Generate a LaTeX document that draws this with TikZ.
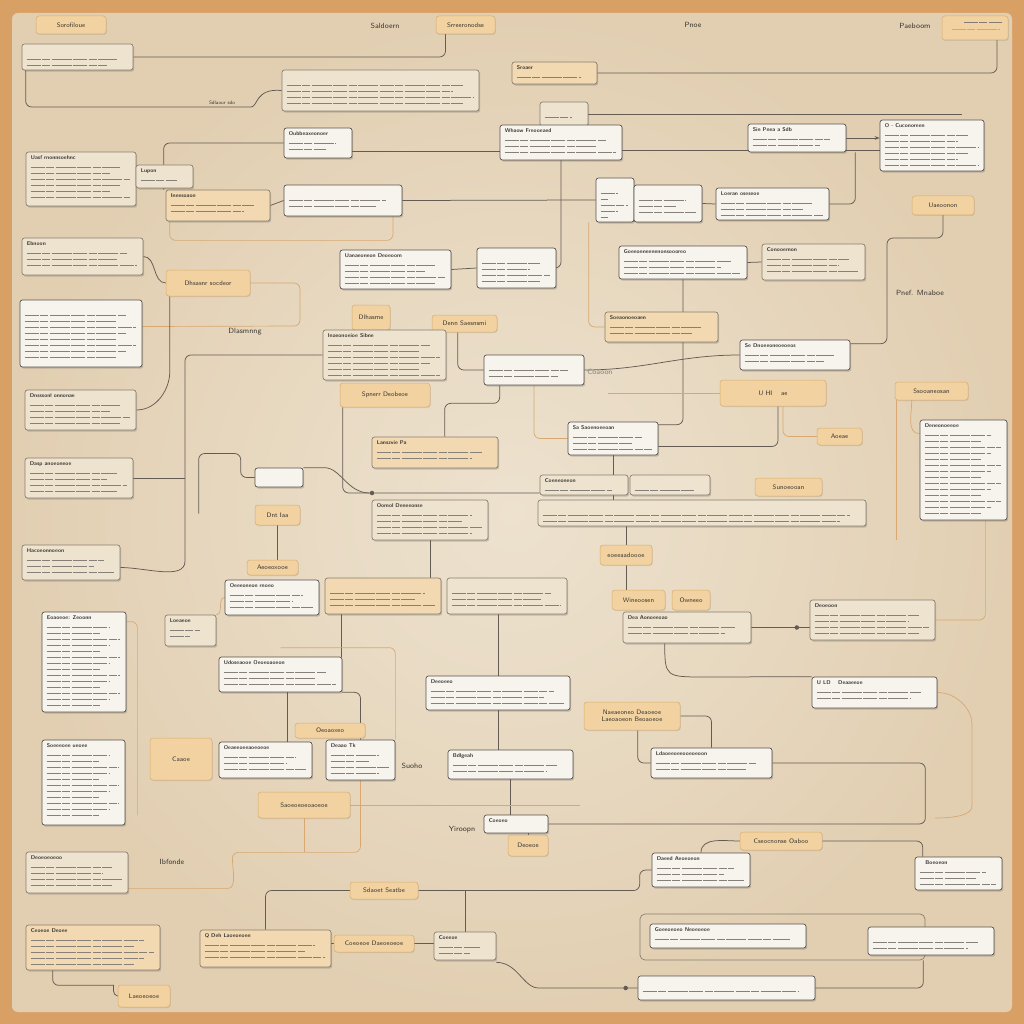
\documentclass[tikz,border=0pt]{standalone}
\usepackage{tikz}
\usetikzlibrary{shadows,arrows.meta}

\definecolor{frame}{HTML}{D9A066}
\definecolor{panel}{HTML}{E2CFB2}
\definecolor{panelin}{HTML}{EDE2CF}
\definecolor{boxwhite}{HTML}{F7F4EE}
\definecolor{boxcream}{HTML}{EEE3CF}
\definecolor{boxorange}{HTML}{F2D9B2}
\definecolor{tagorange}{HTML}{F1D2A0}
\definecolor{tagline}{HTML}{D8AC72}
\definecolor{boxline}{HTML}{5B534B}
\definecolor{creamline}{HTML}{8A7E70}
\definecolor{wirecol}{HTML}{645B52}
\definecolor{owirecol}{HTML}{D8A870}
\definecolor{inkdark}{HTML}{3A3632}
\definecolor{inkgray}{HTML}{85807A}

\pgfdeclarelayer{base}
\pgfdeclarelayer{bg}
\pgfsetlayers{base,bg,main}

\tikzset{
  box/.style={draw=boxline,line width=0.7pt,rounded corners=2.5pt,inner sep=0pt,
    drop shadow={shadow xshift=1.2pt,shadow yshift=-1.6pt,opacity=0.25,fill=black!70}},
  wbox/.style={box,fill=boxwhite},
  cbox/.style={box,fill=boxcream,draw=creamline},
  obox/.style={box,fill=boxorange,draw=creamline},
  tag/.style={fill=tagorange,draw=tagline,line width=0.5pt,rounded corners=3pt,inner sep=1pt,
    align=center,text=inkdark,font=\sffamily\fontsize{6.5}{7}\selectfont,
    drop shadow={shadow xshift=0.8pt,shadow yshift=-1pt,opacity=0.15,fill=black!60}},
  hollow/.style={draw=creamline,line width=0.7pt,rounded corners=5pt,inner sep=0pt},
  wire/.style={draw=wirecol,line width=0.75pt,rounded corners=6pt},
  owire/.style={draw=owirecol,line width=0.7pt,rounded corners=6pt},
  scribble/.style={draw=inkgray,line width=0.9pt,dash pattern=on 14pt off 1.5pt on 8pt off 1.5pt on 20pt off 1.5pt},
  ttl/.style={anchor=north west,inner sep=0pt,text=inkdark,font=\sffamily\bfseries\fontsize{5.5}{6}\selectfont},
  lbl/.style={inner sep=1pt,text=inkdark,font=\sffamily\fontsize{7.5}{8}\selectfont},
  dot/.style={circle,fill=wirecol,inner sep=1.6pt}
}

% box from corner (x1,y1) to (x2,y2), title and text lines
\newcommand\boxat[7]{%
  \node[#1,minimum width={(#5-#3)*1pt},minimum height={(#6-#4)*1pt}] (#2) at ({(#3+#5)/2},{(#4+#6)/2}) {};
  \node[ttl] (#2-t) at ([xshift=5pt,yshift=-4pt]#2.north west) {#7};
  \pgfmathtruncatemacro\nl{((#6)-(#4)-14)/6}%
  \ifnum\nl>0
    \foreach \k in {1,...,\nl}{
      \draw[scribble] ([xshift=5pt,yshift={-(10+6*\k)*1pt}]#2.north west)
        -- ([xshift={-(6+10*mod(\k,3))*1pt},yshift={-(10+6*\k)*1pt}]#2.north east);
    }
  \fi
}
\newcommand\tagat[6]{%
  \node[tag,minimum width={(#4-#2)*1pt},minimum height={(#5-#3)*1pt}] (#1) at ({(#2+#4)/2},{(#3+#5)/2}) {#6};
}

\begin{document}
\begin{tikzpicture}[x=1pt,y=-1pt]
  \useasboundingbox (0,0) rectangle (1024,1024);
  \begin{pgfonlayer}{base}
    \fill[frame] (0,0) rectangle (1024,1024);
    \shade[inner color=panelin,outer color=panel,rounded corners=6pt] (12,13) rectangle (1012,1012);
  \end{pgfonlayer}

  % top band
  \tagat{tSo}{36}{16}{106}{34}{Sorofiloue}
  \boxat{cbox}{a1}{22}{44}{133}{70}{}
  \tagat{tSr}{436}{16}{495}{34}{Srreeronodse}
  \tagat{tP}{942}{16}{1008}{40}{}
  \draw[scribble,draw=wirecol!80] ([xshift=22pt,yshift=-7pt]tP.north west) -- ([xshift=-6pt,yshift=-7pt]tP.north east);
  \draw[scribble,draw=owirecol] ([xshift=10pt,yshift=-14pt]tP.north west) -- ([xshift=-8pt,yshift=-14pt]tP.north east);
  \boxat{cbox}{b1}{282}{70}{479}{111}{}
  \boxat{obox}{pin}{512}{62}{597}{84}{Sroaer}
  \boxat{cbox}{pin2}{540}{102}{588}{126}{}
  \boxat{wbox}{c1}{284}{128}{352}{158}{Oubbeaxeonoer}
  \boxat{wbox}{c2}{500}{125}{622}{160}{Whaow Freooeaed}
  \boxat{wbox}{c3}{748}{124}{846}{152}{Sin Pnea a Sdb}
  \boxat{wbox}{c4}{880}{120}{984}{171}{O - Cuconoreen}
  \boxat{cbox}{d1}{26}{152}{136}{206}{Uasf rnonnsoehnc}
  \boxat{cbox}{d2}{136}{165}{193}{188}{Lupon}
  \boxat{obox}{d3}{166}{190}{270}{221}{Ineesoaon}
  \boxat{wbox}{d4}{284}{185}{402}{216}{}
  \boxat{wbox}{d5}{596}{178}{634}{222}{}
  \boxat{wbox}{d6}{634}{185}{702}{222}{}
  \boxat{wbox}{d7}{716}{188}{829}{220}{Loeran oseseoe}
  \tagat{tU}{912}{196}{974}{215}{Uaeoonon}

  % upper middle
  \boxat{cbox}{e1}{22}{238}{143}{275}{Ebnoon}
  \tagat{tE}{166}{270}{250}{296}{Dhsasnr socdeor}
  \boxat{wbox}{e3}{340}{250}{451}{289}{Uanaeoneon Deoeoom}
  \boxat{wbox}{e4}{477}{248}{556}{288}{}
  \boxat{wbox}{e5}{619}{246}{747}{279}{Goeeonneenenonsoooreo}
  \boxat{cbox}{e6}{762}{244}{865}{280}{Conooemon}
  \boxat{wbox}{f1}{20}{300}{142}{367}{}
  \tagat{tD}{352}{305}{390}{330}{Dlhasme}
  \tagat{tDn}{432}{315}{497}{332}{Denn Saesnsmi}
  \boxat{cbox}{f2}{323}{330}{446}{380}{Inaeonoeioe Sibne}
  \boxat{obox}{f3}{605}{312}{718}{342}{Soeaonoeoaen}
  \boxat{wbox}{f4}{740}{340}{850}{370}{Se Dnoeeoneoeoeos}
  \boxat{wbox}{f5}{484}{355}{584}{385}{}
  \tagat{tSp}{340}{383}{430}{407}{Spnerr Deobeoe}
  \boxat{cbox}{g1}{25}{390}{136}{430}{Dnsssonl onnonae}
  \tagat{tUH}{720}{380}{826}{406}{U HI \quad ae}
  \tagat{tSs}{895}{382}{968}{400}{Ssooaneosan}
  \boxat{wbox}{g2}{568}{422}{658}{455}{Sa Saoenoeeoan}
  \boxat{obox}{g3}{372}{437}{498}{468}{Lanszvie Pa}
  \tagat{tG}{817}{428}{862}{445}{Aoeae}
  \boxat{wbox}{g4}{920}{420}{1007}{520}{Deneonoeeoe}

  % lower middle
  \boxat{cbox}{h1}{25}{458}{133}{498}{Dasp anoeoneoe}
  \boxat{wbox}{h2}{255}{468}{303}{487}{}
  \boxat{cbox}{h3}{540}{475}{628}{495}{Coeneoneon}
  \boxat{cbox}{h4}{630}{475}{710}{495}{}
  \tagat{tSu}{755}{478}{822}{496}{Sunoeooan}
  \boxat{cbox}{h5}{538}{500}{866}{526}{}
  \tagat{tH}{255}{505}{300}{525}{Dnt Iaa}
  \boxat{cbox}{h6}{372}{500}{488}{540}{Oomol Deneeonse}
  \boxat{cbox}{i1}{22}{545}{120}{580}{Hacoeonnoeon}
  \tagat{tI}{600}{545}{652}{565}{eoeeaadoooe}
  \tagat{tA}{247}{560}{298}{575}{Aeoeoxooe}
  \boxat{wbox}{i2}{225}{580}{319}{615}{Oeeeoneon rnoeo}
  \boxat{obox}{i3}{325}{578}{441}{614}{}
  \boxat{cbox}{i4}{447}{578}{567}{614}{}
  \tagat{tW}{612}{590}{665}{610}{Wineoosen}
  \tagat{tO}{672}{590}{710}{610}{Owneeo}
  \boxat{wbox}{j1}{42}{612}{126}{712}{Eoaoeoe: Zeoonn}
  \boxat{cbox}{j2}{165}{615}{216}{646}{Loeaeoe}
  \boxat{cbox}{j3}{623}{612}{751}{643}{Dea Aonoeeoao}
  \boxat{cbox}{j4}{810}{600}{935}{640}{Deoeoon}
  \boxat{wbox}{k1}{219}{657}{342}{692}{Udoseaooe Oeoeoaoeon}
  \boxat{wbox}{k2}{426}{676}{570}{710}{Deeoeeo}
  \tagat{k3}{584}{702}{680}{730}{Naeaeoneo Deaoeoe\\Laeoaoeon Beoaoeoe}
  \boxat{wbox}{k4}{812}{677}{937}{708}{U LD \quad Deaaeeoe}
  \tagat{tOe}{295}{723}{365}{738}{Oeoaoxeo}

  % bottom band
  \boxat{wbox}{l1}{42}{740}{125}{825}{Soeeeoee ueoee}
  \tagat{tL}{150}{738}{212}{780}{Caaoe}
  \boxat{wbox}{l2}{219}{742}{312}{778}{Oeaeeoeeaoeoeoe}
  \boxat{wbox}{l3}{326}{740}{395}{780}{Deaao Tk}
  \boxat{wbox}{l4}{448}{750}{573}{779}{Bdlgeah}
  \boxat{wbox}{l5}{651}{748}{772}{778}{Ldaoeeoeeooeoeoon}
  \tagat{tM}{258}{792}{350}{818}{Saoeoeoeoaoeoe}
  \boxat{wbox}{m1}{484}{815}{548}{833}{Coeoeo}
  \tagat{tM2}{508}{835}{548}{856}{Deoeoe}
  \tagat{tC}{740}{832}{822}{850}{Cseocnonse Oaboo}
  \boxat{cbox}{n1}{26}{852}{128}{893}{Deoeoeoeoo}
  \boxat{wbox}{n2}{652}{853}{750}{887}{Daeed Aeoeoeon}
  \boxat{wbox}{n3}{915}{857}{1002}{890}{\quad Boeoeon}
  \tagat{tSd}{350}{882}{418}{899}{Sdaoet Seatbe}
  \node[hollow,minimum width=285pt,minimum height=46pt] (o0) at (782.5,937) {};
  \boxat{wbox}{o0in}{650}{924}{806}{948}{Goeeoeoeo Neoeoeoe}
  \boxat{wbox}{o1}{868}{927}{994}{955}{}
  \boxat{obox}{o2}{26}{925}{160}{970}{Ceoeoe Deoee}
  \boxat{obox}{o3}{200}{930}{331}{967}{Q Deh Laoeoeoen}
  \tagat{tY}{334}{935}{414}{952}{Coeoeoe Daeoeoeoe}
  \boxat{cbox}{o4}{434}{932}{496}{960}{Coeeoe}
  \tagat{p1}{118}{985}{170}{1007}{Laeoeoeoe}
  \boxat{wbox}{p2}{638}{976}{815}{1000}{}

  % loose labels
  \node[lbl] (tx-sald) at (385,26) {Saldoern};
  \node[lbl] (tx-pnoe) at (693,25) {Pnoe};
  \node[lbl] (tx-paeb) at (915,26) {Paeboom};
  \node[lbl,font=\sffamily\fontsize{5}{6}\selectfont] (tx-sdl) at (222,103) {Sdlaour sdo};
  \node[lbl] (tx-dlas) at (245,332) {Dlasmnng};
  \node[lbl] (tx-pnef) at (920,293) {Pnef. Mnaboe};
  \node[lbl,text=inkgray] (tx-coa) at (600,372) {Coaoon};
  \node[lbl] (tx-suoho) at (412,766) {Suoho};
  \node[lbl] (tx-yir) at (462,830) {Yiroopn};
  \node[lbl] (tx-ibf) at (172,862) {Ibfonde};

  \coordinate (r1) at (962,114);
  \coordinate (jn) at (372,493);
  \node[dot] (jd) at (jn) {};
  \node[dot] (pd) at ([xshift=-12pt]p2.west) {};

  \begin{pgfonlayer}{bg}
    % top band
    \draw[wire] (a1.east) -| ([xshift=-20pt]tSr.south);
    \draw[wire] (pin.east) -| ([xshift=22pt]tP.south);
    \draw[wire] ([xshift=4pt]a1.south west) |- (245,107) .. controls (258,107) and (255,88) .. (b1.west);
    \draw[wire] (pin2.east) -- (r1);
    \draw[wire] (c1.west) -| ([xshift=-2pt]d3.north west);
    \draw[wire] ([yshift=-8pt]c1.east) -- ([yshift=-8pt]c1.east -| c2.west);
    \draw[wire] ([yshift=-8pt]c2.east) -- ([yshift=-8pt]c2.east -| c4.west);
    \draw[wire,-{Stealth[length=5pt]}] (c3.east) -- (c3.east -| c4.west);
    \draw[wire] (d1.east) -- (d2.west);
    \draw[wire] (d3.east) -- (d4.west);
    \draw[wire] (d4.east) -- (d5.west);
    \draw[wire] (d6.east) -- (d7.west);
    \draw[wire] (d7.east) -| ([xshift=9pt]c3.south east);
    \draw[owire] ([xshift=4pt]d3.south west) |- ([xshift=50pt,yshift=-24pt]d4.south) -- ([xshift=50pt]d4.south);
    \draw[wire] (c2.south) |- (e4.east);
    \draw[wire] (e3.east) -- (e4.west);
    \draw[wire] (e5.east) -- (e6.west);
    \draw[owire] ([xshift=-7pt]d5.south west) |- (f3.west);
    % upper middle
    \draw[wire] (e1.east) to[out=0,in=180] (tE.west);
    \draw[owire] (tE.east) -- (300,283) -- (300,326) -- ([yshift=7pt]f1.east);
    \draw[wire] (g1.east) to[out=0,in=-90] ([xshift=4pt,yshift=-70pt]tE.south west) -- ([xshift=4pt]tE.south west);
    \draw[wire] (f2.west) -| (185,555) to[out=-90,in=0] ([yshift=-5pt]i1.east);
    \draw[wire] (h1.east) -- ++(52,0);
    \draw[wire] (h2.west) -- ++(-14,0) |- ++(-42,-24) -- ++(0,60);
    \draw[wire] (h2.north east) -- ++(15,0) to[out=0,in=180] (jd);
    \draw[wire] ([xshift=3pt]tSp.south west) |- (jd) -- (jn -| h3.west);
    \draw[wire] ([xshift=26pt]tDn.south west) |- (f5.west);
    \draw[wire] ([xshift=16pt]f5.south west) -- ++(0,18) -| ([xshift=73pt]g3.north west);
    \draw[owire] (f5.south) |- (g2.west);
    \draw[wire] (f5.east) to[out=0,in=180] (f4.west);
    \draw[wire] (e5.south) |- ([yshift=-3pt]g2.north east);
    \draw[wire] ([yshift=-8pt]g2.east) -| ([xshift=5pt]tUH.south);
    \draw[owire] (tUH.west) -- ++(-112,0);
    \draw[owire] ([xshift=10pt]tUH.south) |- (tG.west);
    \draw[wire] (tU.south) |- (887,238) |- ([yshift=-4pt]f4.north east);
    \draw[owire] ([xshift=2pt]tSs.south west) -- ++(0,140);
    \draw[owire] ([xshift=17pt]tSs.south west) to[out=-90,in=180] ([yshift=-14pt]g4.north west);
    \draw[wire] (g2.south) -- (g2.south |- h5.north);
    % lower middle
    \draw[wire] (tI.north) -- (tI.north |- h5.south);
    \draw[wire] (tI.south) -- (tI.south |- tW.north);
    \draw[wire] (tH.south) -- (tH.south |- tA.north);
    \draw[wire] (h6.south) -- (h6.south |- i3.north);
    \draw[wire] (j3.east) -- node[dot,pos=0.78] (jd2) {} (j3.east -| j4.west);
    \draw[wire] ([xshift=42pt]j3.south west) .. controls (665,677) .. (712,677) -- (k4.north west);
    \draw[owire] (j4.east) -| ([xshift=-22pt]g4.south east);
    \draw[wire] ([xshift=17pt]i3.south west) -- ([xshift=17pt]i3.south west |- k1.north);
    \draw[owire] (l3.north east) |- ([yshift=9pt]k1.north);
    \draw[wire] ([xshift=69pt]k1.south west) -- ([xshift=69pt]k1.south west |- l2.north);
    \draw[wire] (k1.south east) -| (l3.north);
    \draw[wire] (k2.north) -- (k2.north |- i4.south);
    \draw[wire] (k2.south) -- (k2.south |- l4.north);
    \draw[wire] (k3.east) -| (l5.north);
    \draw[wire] ([xshift=54pt]k3.south west) |- (l5.west);
    \draw[owire] (k4.east) to[out=0,in=90] (972,730) -- (972,800) to[out=-90,in=0] (935,818);
    \draw[owire] ([yshift=-10pt]j1.north east) -| ([xshift=12pt,yshift=10pt]l1.south east);
    \draw[owire] (j2.north east) to[out=0,in=180] (i2.west);
    % bottom band
    \draw[wire] (l4.south) -- (l4.south |- m1.north);
    \draw[wire] (tM2.north) -- (tM2.north |- m1.south);
    \draw[wire] (l5.east) -- ++(153,0) |- (m1.east);
    \draw[wire] (n2.north) to[out=90,in=180] (tC.west);
    \draw[wire] (tC.east) -| ([xshift=8pt]n3.north west);
    \draw[wire] (n2.west) -- ++(-12,0) |- (tSd.east);
    \draw[wire] (tSd.west) -| (o3.north);
    \draw[wire] (o4.north) -- (o4.north |- tSd.east);
    \draw[wire] (o3.east |- tY.west) -- (tY.west);
    \draw[wire] (tY.east) -- (tY.east -| o4.west);
    \draw[owire] ([yshift=5pt]n1.south east) -- ++(94,0) to[out=0,in=-90] ++(10,-36) -| (l3.south);
    \draw[owire] (tM.south) -- ++(0,34);
    \draw[owire] (tM.east) -- ++(230,0);
    \draw[wire] (p2.west) -- ++(-93,0) to[out=180,in=0] ([yshift=-2pt]o4.south east);
    \draw[wire] (p2.east) -| ([xshift=-2pt]o0.south east);
    \draw[wire] ([xshift=27pt]o2.south west) |- ++(55,15) to[out=0,in=180] (p1.west);
  \end{pgfonlayer}
\end{tikzpicture}
\end{document}
